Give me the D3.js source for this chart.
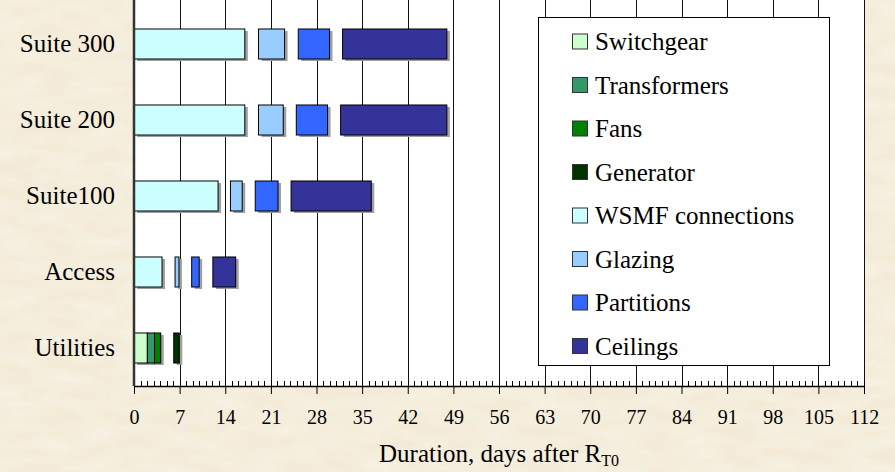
<!DOCTYPE html>
<html>
<head>
<meta charset="utf-8">
<script src="https://cdn.jsdelivr.net/npm/d3@7"></script>
<style>
  html, body { margin: 0; padding: 0; background: #F3EBD6; }
  svg { display: block; }
</style>
</head>
<body>
<div id="chart"></div>
<script>
// categories, top to bottom
const categories = ["Suite 300", "Suite 200", "Suite100", "Access", "Utilities"];

// legend entries and their colours
const taskNames = ["Switchgear", "Transformers", "Fans", "Generator",
                   "WSMF connections", "Glazing", "Partitions", "Ceilings"];
const taskColors = ["#CCFFCC", "#339966", "#008000", "#003300",
                    "#CCFFFF", "#99CCFF", "#3366FF", "#333399"];

// [task, start day, end day]
const suite300 = [["WSMF connections", 0, 17], ["Glazing", 19.1, 23.1], ["Partitions", 25.2, 30], ["Ceilings", 32, 48]];
const suite200 = [["WSMF connections", 0, 17], ["Glazing", 19.1, 22.9], ["Partitions", 24.9, 29.7], ["Ceilings", 31.7, 48]];
const suite100 = [["WSMF connections", 0, 12.9], ["Glazing", 14.8, 16.6], ["Partitions", 18.6, 22.1], ["Ceilings", 24.1, 36.4]];
const access   = [["WSMF connections", 0, 4.3], ["Glazing", 6.3, 6.9], ["Partitions", 8.85, 10], ["Ceilings", 12.1, 15.6]];
const utilities = [["Switchgear", 0, 2.05], ["Transformers", 2.05, 3.15], ["Fans", 3.15, 4.1], ["Generator", 6.1, 6.95]];

const rows = [suite300, suite200, suite100, access, utilities];

const xTicks = [0, 7, 14, 21, 28, 35, 42, 49, 56, 63, 70, 77, 84, 91, 98, 105, 112];

const width = 895, height = 472;
const plotLeft = 134, plotRight = 864, plotTop = 6, plotBottom = 386;
const font = "'Liberation Serif', 'Times New Roman', serif";

const svg = d3.select("#chart").append("svg")
    .attr("width", width)
    .attr("height", height);

// parchment texture
const defs = svg.append("defs");
const f = defs.append("filter").attr("id", "paper")
    .attr("x", 0).attr("y", 0).attr("width", "100%").attr("height", "100%");
f.append("feTurbulence")
    .attr("type", "fractalNoise")
    .attr("baseFrequency", "0.025 0.08")
    .attr("numOctaves", 4)
    .attr("seed", 7);
f.append("feColorMatrix")
    .attr("type", "matrix")
    .attr("values", "0 0 0 0 1  0 0 0 0 1  0 0 0 0 1  1.4 0 0 0 -0.4");

svg.append("rect").attr("width", width).attr("height", height).attr("fill", "#F3EBD7");
svg.append("rect").attr("width", width).attr("height", height)
    .attr("filter", "url(#paper)").attr("opacity", 0.38);

const x = d3.scaleLinear().domain([0, 112]).range([plotLeft, plotRight]);
const y = d3.scaleBand().domain(categories).range([plotTop, plotBottom])
    .paddingInner(0.605).paddingOuter(0.3025);

const color = d3.scaleOrdinal().domain(taskNames).range(taskColors);

// plot area
svg.append("rect")
    .attr("x", plotLeft).attr("y", 0)
    .attr("width", plotRight - plotLeft).attr("height", plotBottom)
    .attr("fill", "#fff");

// vertical gridlines
svg.append("g")
    .attr("transform", `translate(0,${plotBottom})`)
    .call(d3.axisBottom(x).tickValues(xTicks.slice(1)).tickSize(-plotBottom).tickFormat(""))
    .call(g => g.select(".domain").remove())
    .call(g => g.selectAll("line").attr("stroke", "#111").attr("shape-rendering", "crispEdges"));

// bars
const segs = [];
rows.forEach((r, i) => r.forEach(d => segs.push({cat: categories[i], task: d[0], s: d[1], e: d[2]})));

const bars = svg.append("g");
bars.selectAll(".shadow").data(segs).join("rect")
    .attr("class", "shadow")
    .attr("x", d => x(d.s) + 3)
    .attr("y", d => y(d.cat) + 2)
    .attr("width", d => x(d.e) - x(d.s))
    .attr("height", y.bandwidth())
    .attr("fill", "#a0a0a0");
bars.selectAll(".bar").data(segs).join("rect")
    .attr("class", "bar")
    .attr("x", d => x(d.s))
    .attr("y", d => y(d.cat))
    .attr("width", d => x(d.e) - x(d.s))
    .attr("height", y.bandwidth())
    .attr("fill", d => color(d.task))
    .attr("stroke", "#000")
    .attr("stroke-width", 1);

// minor ticks (every day)
svg.append("g")
    .attr("transform", `translate(0,${plotBottom})`)
    .call(d3.axisBottom(x).tickValues(d3.range(0, 113, 1)).tickSize(-5).tickFormat(""))
    .call(g => g.select(".domain").remove())
    .call(g => g.selectAll("line").attr("stroke", "#000").attr("shape-rendering", "crispEdges"));

// x axis
svg.append("g")
    .attr("transform", `translate(0,${plotBottom})`)
    .call(d3.axisBottom(x).tickValues(xTicks).tickSize(8).tickSizeOuter(0))
    .call(g => g.select(".domain").attr("stroke", "#000").attr("stroke-width", 1.5))
    .call(g => g.selectAll("line").attr("stroke", "#000"))
    .call(g => g.selectAll("text")
        .attr("y", 38).attr("dy", null)
        .attr("fill", "#000")
        .style("font-family", font).style("font-size", "20px"));

// y axis
svg.append("g")
    .attr("transform", `translate(${plotLeft},0)`)
    .call(d3.axisLeft(y).tickSize(0).tickPadding(19))
    .call(g => g.select(".domain").remove())
    .call(g => g.selectAll("text")
        .attr("fill", "#000")
        .style("font-family", font).style("font-size", "25px"));

svg.append("line")
    .attr("x1", plotLeft).attr("x2", plotLeft)
    .attr("y1", 0).attr("y2", plotBottom)
    .attr("stroke", "#333").attr("stroke-width", 2.5);

// legend
const lg = svg.append("g");
lg.append("rect")
    .attr("x", 538.5).attr("y", 17.5)
    .attr("width", 291).attr("height", 348)
    .attr("fill", "#fff").attr("stroke", "#000");
const ly = d3.scalePoint().domain(taskNames).range([41.5, 346]);
const item = lg.selectAll(".item").data(taskNames).join("g")
    .attr("class", "item")
    .attr("transform", d => `translate(0,${ly(d)})`);
item.append("rect")
    .attr("x", 572.5).attr("y", -7.5)
    .attr("width", 15).attr("height", 15)
    .attr("fill", d => color(d))
    .attr("stroke", "#333");
item.append("text")
    .attr("x", 595).attr("y", 8.5)
    .style("font-family", font).style("font-size", "25px")
    .text(d => d);

// axis title
const title = svg.append("text")
    .attr("x", (plotLeft + plotRight) / 2).attr("y", 462)
    .attr("text-anchor", "middle")
    .style("font-family", font).style("font-size", "25px")
    .text("Duration, days after R");
title.append("tspan")
    .attr("dy", 4)
    .style("font-size", "16px")
    .text("T0");
</script>
</body>
</html>
